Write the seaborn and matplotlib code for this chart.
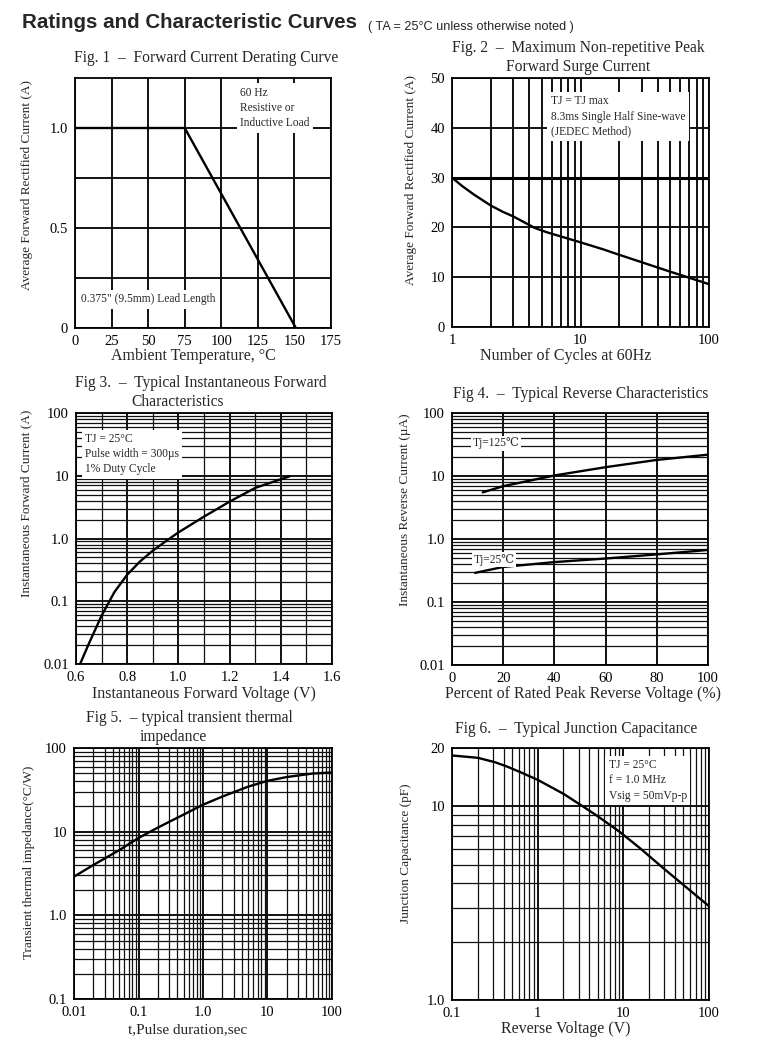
import numpy as np
import pandas as pd
import matplotlib
matplotlib.use("Agg")
import matplotlib.pyplot as plt
import seaborn as sns
from matplotlib.ticker import FixedLocator, FixedFormatter, LogLocator, NullFormatter

# ---------------- data ----------------
fig1_temp = [0, 75, 151]
fig1_current = [1.0, 1.0, 0.0]

fig2_cycles = [1, 1.2, 1.5, 2, 2.5, 3, 4.4, 5.5, 7, 10, 15, 20, 30, 50, 70, 100]
fig2_current = [30, 28.3, 26.5, 24.4, 23.1, 22.2, 19.9, 19.0, 18.2, 17.0, 15.6, 14.5, 13.0, 11.1, 9.9, 8.6]
fig2_ref_line = 30

fig3_voltage = [0.616, 0.65, 0.7, 0.75, 0.8, 0.85, 0.9, 0.95, 1.0, 1.1, 1.2, 1.3, 1.434]
fig3_current = [0.01, 0.021, 0.059, 0.14, 0.265, 0.43, 0.64, 0.90, 1.25, 2.23, 3.87, 6.4, 9.8]

fig4_pct_125 = [12, 20, 40, 60, 80, 100]
fig4_cur_125 = [5.5, 6.9, 10.2, 13.8, 18.0, 21.8]
fig4_pct_25 = [9, 20, 40, 60, 80, 100]
fig4_cur_25 = [0.29, 0.36, 0.43, 0.49, 0.57, 0.67]

fig5_time = [0.01, 0.02, 0.05, 0.1, 0.2, 0.5, 1, 2, 5, 10, 20, 50, 100]
fig5_imp = [2.9, 4.0, 6.0, 8.4, 11.2, 16.0, 21.0, 26.3, 34.5, 40.5, 45.0, 49.5, 51.0]

fig6_voltage = [0.1, 0.2, 0.316, 0.43, 0.63, 1.0, 2.0, 3.36, 5, 9, 15.5, 30, 100]
fig6_cap = [18.3, 17.8, 16.9, 16.1, 15.0, 13.7, 11.6, 10.0, 8.9, 7.4, 6.1, 4.75, 3.05]

# tick labels
fig1_xticks = [0, 25, 50, 75, 100, 125, 150, 175]
fig1_yticks = [0, 0.5, 1.0]
fig1_ylabels = ["0", "0.5", "1.0"]
fig2_xticks = [1, 10, 100]
fig2_yticks = [0, 10, 20, 30, 40, 50]
fig3_xticks = [0.6, 0.8, 1.0, 1.2, 1.4, 1.6]
fig3_yticks = [0.01, 0.1, 1, 10, 100]
fig3_ylabels = ["0.01", "0.1", "1.0", "10", "100"]
fig4_xticks = [0, 20, 40, 60, 80, 100]
fig5_xticks = [0.01, 0.1, 1, 10, 100]
fig5_xlabels = ["0.01", "0.1", "1.0", "10", "100"]
fig5_yticks = [0.1, 1, 10, 100]
fig5_ylabels = ["0.1", "1.0", "10", "100"]
fig6_xticks = [0.1, 1, 10, 100]
fig6_xlabels = ["0.1", "1", "10", "100"]
fig6_yticks = [1, 10, 20]
fig6_ylabels = ["1.0", "10", "20"]

# ---------------- style ----------------
sns.set_style("white")
SERIF = ["Liberation Serif", "DejaVu Serif"]
plt.rcParams["font.family"] = SERIF
plt.rcParams["axes.linewidth"] = 1.3
plt.rcParams["axes.edgecolor"] = "black"

W, H = 775, 1043
fig = plt.figure(figsize=(W / 100, H / 100), dpi=100)


def rect(l, t, r, b):
    return [l / W, 1 - b / H, (r - l) / W, (b - t) / H]


GRID_MAJOR = dict(color="#111111", lw=1.4)
GRID_MINOR = dict(color="#111111", lw=0.9)
CURVE = dict(color="black", lw=1.7)
BOX = dict(facecolor="white", edgecolor="none", pad=2.5)
SMALLBOX = dict(facecolor="white", edgecolor="none", pad=1.2)
TITLE_FS = 11.2


def style(ax):
    ax.tick_params(which="both", length=0, labelsize=10.5, colors="black", pad=5)
    for s in ax.spines.values():
        s.set_visible(True)
        s.set_color("black")
        s.set_linewidth(1.3)
    ax.set_axisbelow(True)


def ftitle(x, y, s):
    fig.text(x / W, 1 - y / H, s, ha="center", va="center", fontsize=TITLE_FS, family=SERIF)


# ---------------- Fig 1 ----------------
ax1 = fig.add_axes(rect(75, 78, 331, 328))
df1 = pd.DataFrame({"t": fig1_temp, "i": fig1_current})
sns.lineplot(data=df1, x="t", y="i", ax=ax1, **CURVE)
ax1.set_xlim(0, 175)
ax1.set_ylim(0, 1.25)
ax1.xaxis.set_major_locator(FixedLocator(fig1_xticks))
ax1.yaxis.set_major_locator(FixedLocator(fig1_yticks))
ax1.yaxis.set_major_formatter(FixedFormatter(fig1_ylabels))
ax1.yaxis.set_minor_locator(FixedLocator([0.25, 0.75]))
ax1.grid(True, which="major", **GRID_MAJOR)
ax1.grid(True, which="minor", axis="y", **GRID_MAJOR)
ax1.set_xlabel("Ambient Temperature, °C", fontsize=11.5)
ax1.set_ylabel("Average Forward Rectified Current (A)", fontsize=9.5)
ax1.xaxis.set_label_coords(0.461, -0.082)
ax1.yaxis.set_label_coords(-0.165, 0.57)
style(ax1)
ax1.text(0.645, 0.965, "60 Hz\nResistive or\nInductive Load", transform=ax1.transAxes,
         ha="left", va="top", fontsize=8.3, linespacing=1.35, bbox=BOX)
ax1.text(0.025, 0.115, "0.375\" (9.5mm) Lead Length", transform=ax1.transAxes,
         ha="left", va="center", fontsize=8.3, bbox=BOX)
ftitle(206, 58, "Fig. 1  –  Forward Current Derating Curve")

# ---------------- Fig 2 ----------------
ax2 = fig.add_axes(rect(452, 78, 709, 327))
df2 = pd.DataFrame({"n": fig2_cycles, "i": fig2_current})
ax2.set_xscale("log")
sns.lineplot(data=df2, x="n", y="i", ax=ax2, **CURVE)
ax2.axhline(fig2_ref_line, color="black", lw=2.2, zorder=1)
ax2.set_xlim(1, 100)
ax2.set_ylim(0, 50)
ax2.xaxis.set_major_locator(FixedLocator(fig2_xticks))
ax2.xaxis.set_major_formatter(FixedFormatter([str(v) for v in fig2_xticks]))
ax2.xaxis.set_minor_locator(LogLocator(base=10, subs=range(2, 10)))
ax2.xaxis.set_minor_formatter(NullFormatter())
ax2.yaxis.set_major_locator(FixedLocator(fig2_yticks))
ax2.grid(True, which="major", **GRID_MAJOR)
ax2.grid(True, which="minor", axis="x", **GRID_MAJOR)
ax2.set_xlabel("Number of Cycles at 60Hz", fontsize=11.5)
ax2.set_ylabel("Average Forward Rectified Current (A)", fontsize=9.5)
ax2.xaxis.set_label_coords(0.444, -0.086)
ax2.yaxis.set_label_coords(-0.135, 0.59)
style(ax2)
ax2.text(0.385, 0.93, "TJ = TJ max\n8.3ms Single Half Sine-wave\n(JEDEC Method)",
         transform=ax2.transAxes, ha="left", va="top", fontsize=8.3, linespacing=1.35, bbox=BOX)
fig.text(578 / W, 1 - 57.5 / H, "Fig. 2  –  Maximum Non-repetitive Peak\nForward Surge Current",
         ha="center", va="center", fontsize=TITLE_FS, linespacing=1.25)

# ---------------- Fig 3 ----------------
ax3 = fig.add_axes(rect(76, 413, 332, 664))
df3 = pd.DataFrame({"v": fig3_voltage, "i": fig3_current})
ax3.set_yscale("log")
sns.lineplot(data=df3, x="v", y="i", ax=ax3, **CURVE)
ax3.set_xlim(0.6, 1.6)
ax3.set_ylim(0.01, 100)
ax3.xaxis.set_major_locator(FixedLocator(fig3_xticks))
ax3.xaxis.set_major_formatter(FixedFormatter([f"{v:.1f}" for v in fig3_xticks]))
ax3.xaxis.set_minor_locator(FixedLocator([0.7, 0.9, 1.1, 1.3, 1.5]))
ax3.yaxis.set_major_locator(FixedLocator(fig3_yticks))
ax3.yaxis.set_major_formatter(FixedFormatter(fig3_ylabels))
ax3.yaxis.set_minor_locator(LogLocator(base=10, subs=range(2, 10)))
ax3.yaxis.set_minor_formatter(NullFormatter())
ax3.grid(True, which="major", **GRID_MAJOR)
ax3.grid(True, which="minor", **GRID_MINOR)
ax3.set_xlabel("Instantaneous Forward Voltage (V)", fontsize=11.5)
ax3.set_ylabel("Instantaneous Forward Current (A)", fontsize=9.5)
ax3.xaxis.set_label_coords(0.5, -0.086)
ax3.yaxis.set_label_coords(-0.17, 0.64)
style(ax3)
ax3.text(0.035, 0.92, "TJ = 25°C\nPulse width = 300µs\n1% Duty Cycle", transform=ax3.transAxes,
         ha="left", va="top", fontsize=8.3, linespacing=1.35, bbox=BOX)
ftitle(201, 383, "Fig 3.  –  Typical Instantaneous Forward")
ftitle(178, 402, "Characteristics")

# ---------------- Fig 4 ----------------
ax4 = fig.add_axes(rect(452, 413, 708, 665))
df4a = pd.DataFrame({"p": fig4_pct_125, "i": fig4_cur_125})
df4b = pd.DataFrame({"p": fig4_pct_25, "i": fig4_cur_25})
ax4.set_yscale("log")
sns.lineplot(data=df4a, x="p", y="i", ax=ax4, **CURVE)
sns.lineplot(data=df4b, x="p", y="i", ax=ax4, **CURVE)
ax4.set_xlim(0, 100)
ax4.set_ylim(0.01, 100)
ax4.xaxis.set_major_locator(FixedLocator(fig4_xticks))
ax4.yaxis.set_major_locator(FixedLocator(fig3_yticks))
ax4.yaxis.set_major_formatter(FixedFormatter(fig3_ylabels))
ax4.yaxis.set_minor_locator(LogLocator(base=10, subs=range(2, 10)))
ax4.yaxis.set_minor_formatter(NullFormatter())
ax4.grid(True, which="major", **GRID_MAJOR)
ax4.grid(True, which="minor", axis="y", **GRID_MINOR)
ax4.set_xlabel("Percent of Rated Peak Reverse Voltage (%)", fontsize=11.5)
ax4.set_ylabel("Instantaneous Reverse Current (µA)", fontsize=9.5)
ax4.xaxis.set_label_coords(0.512, -0.082)
ax4.yaxis.set_label_coords(-0.16, 0.615)
style(ax4)
ax4.text(0.08, 0.88, "Tj=125℃", transform=ax4.transAxes, ha="left", va="center",
         fontsize=8.3, bbox=SMALLBOX)
ax4.text(0.085, 0.418, "Tj=25℃", transform=ax4.transAxes, ha="left", va="center",
         fontsize=8.3, bbox=SMALLBOX)
ftitle(581, 394, "Fig 4.  –  Typical Reverse Characteristics")

# ---------------- Fig 5 ----------------
ax5 = fig.add_axes(rect(74, 748, 332, 999))
df5 = pd.DataFrame({"t": fig5_time, "z": fig5_imp})
ax5.set_xscale("log")
ax5.set_yscale("log")
sns.lineplot(data=df5, x="t", y="z", ax=ax5, **CURVE)
ax5.set_xlim(0.01, 100)
ax5.set_ylim(0.1, 100)
ax5.xaxis.set_major_locator(FixedLocator(fig5_xticks))
ax5.xaxis.set_major_formatter(FixedFormatter(fig5_xlabels))
ax5.yaxis.set_major_locator(FixedLocator(fig5_yticks))
ax5.yaxis.set_major_formatter(FixedFormatter(fig5_ylabels))
for a in (ax5.xaxis, ax5.yaxis):
    a.set_minor_locator(LogLocator(base=10, subs=range(2, 10)))
    a.set_minor_formatter(NullFormatter())
ax5.grid(True, which="major", **GRID_MAJOR)
ax5.grid(True, which="minor", **GRID_MINOR)
ax5.set_xlabel("t,Pulse duration,sec", fontsize=11)
ax5.set_ylabel("Transient thermal impedance(°C/W)", fontsize=9.5)
ax5.xaxis.set_label_coords(0.442, -0.095)
ax5.yaxis.set_label_coords(-0.15, 0.546)
style(ax5)
ftitle(189, 718, "Fig 5.  – typical transient thermal")
ftitle(173, 737, "impedance")

# ---------------- Fig 6 ----------------
ax6 = fig.add_axes(rect(452, 748, 709, 1000))
df6 = pd.DataFrame({"v": fig6_voltage, "c": fig6_cap})
ax6.set_xscale("log")
ax6.set_yscale("log")
sns.lineplot(data=df6, x="v", y="c", ax=ax6, **CURVE)
ax6.set_xlim(0.1, 100)
ax6.set_ylim(1, 20)
ax6.xaxis.set_major_locator(FixedLocator(fig6_xticks))
ax6.xaxis.set_major_formatter(FixedFormatter(fig6_xlabels))
ax6.yaxis.set_major_locator(FixedLocator(fig6_yticks))
ax6.yaxis.set_major_formatter(FixedFormatter(fig6_ylabels))
for a in (ax6.xaxis, ax6.yaxis):
    a.set_minor_locator(LogLocator(base=10, subs=range(2, 10)))
    a.set_minor_formatter(NullFormatter())
ax6.grid(True, which="major", **GRID_MAJOR)
ax6.grid(True, which="minor", **GRID_MINOR)
ax6.set_xlabel("Reverse Voltage (V)", fontsize=11.5)
ax6.set_ylabel("Junction Capacitance (pF)", fontsize=9.5)
ax6.xaxis.set_label_coords(0.444, -0.082)
ax6.yaxis.set_label_coords(-0.155, 0.583)
style(ax6)
ax6.text(0.61, 0.955, "TJ = 25°C\nf = 1.0 MHz\nVsig = 50mVp-p", transform=ax6.transAxes,
         ha="left", va="top", fontsize=8.3, linespacing=1.35, bbox=BOX)
ftitle(576, 729, "Fig 6.  –  Typical Junction Capacitance")

# ---------------- header ----------------
fig.text(22 / W, 1 - 23 / H, "Ratings and Characteristic Curves", ha="left", va="center",
         fontsize=14.8, fontweight="bold", family=["Liberation Sans", "DejaVu Sans"])
fig.text(368 / W, 1 - 27 / H, "( TA = 25°C unless otherwise noted )", ha="left", va="center",
         fontsize=9.1, family=["Liberation Sans", "DejaVu Sans"])

for ax in (ax1, ax2, ax3, ax4, ax5, ax6):
    leg = ax.get_legend()
    if leg:
        leg.remove()

fig.savefig("out.png", dpi=100, facecolor="white")
